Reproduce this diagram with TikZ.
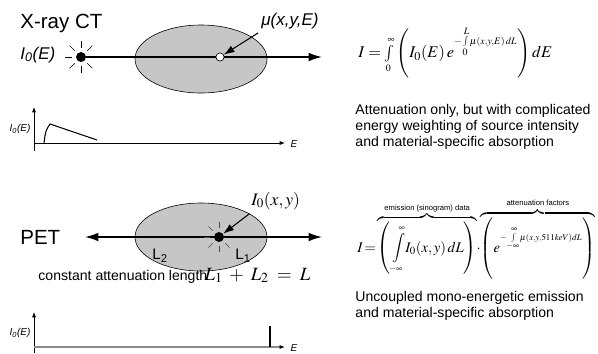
\documentclass[tikz,border=0pt]{standalone}
\usepackage{amsmath}
\usepackage{mathptmx}
\usepackage[no-math]{fontspec}
\setmainfont{Liberation Sans}
\usetikzlibrary{arrows.meta, positioning, shapes.geometric}
\definecolor{cbody}{HTML}{C6C6C6}
\definecolor{cline}{HTML}{8A8A8A}
\newcommand{\bracelabel}[1]{\text{\fontsize{6.5}{8}\selectfont #1}}
\newcommand{\tinylim}[1]{{\scriptscriptstyle #1}}
\tikzset{
  every picture/.style={line width=0.8pt},
  title/.style={font=\fontsize{17.5}{20}\selectfont},
  label/.style={font=\fontsize{14.5}{17}\selectfont\itshape},
  note/.style={font=\fontsize{12}{13.5}\selectfont, align=left, inner sep=0pt},
  tiny/.style={font=\fontsize{8.5}{10}\selectfont\itshape, inner sep=1pt},
  formula/.style={font=\fontsize{14}{16}\selectfont, inner sep=0pt},
  body/.style={draw, ellipse, fill=cbody, line width=0.5pt, inner sep=0pt,
    minimum width=3.96cm, minimum height=2.04cm},
  srcdot/.style={circle, fill=black, inner sep=0pt, minimum size=8.5pt},
  probe/.style={circle, draw, fill=white, line width=0.6pt, inner sep=0pt, minimum size=7pt},
  raytick/.style={line width=0.5pt},
  beam/.style={line width=1.3pt, -{Latex[length=4mm, width=2.6mm]}},
  twobeam/.style={line width=1.3pt, {Latex[length=4mm, width=2.6mm]}-{Latex[length=4mm, width=2.6mm]}},
  pointer/.style={line width=0.9pt, -{Latex[length=3.2mm, width=2.2mm]}},
  axisarrow/.style={line width=0.6pt, -{Latex[length=1.6mm, width=1.2mm]}},
}
\begin{document}
\begin{tikzpicture}[x=0.03cm, y=-0.03cm]
  \useasboundingbox (0,0) rectangle (598,353);
  % X-ray CT
  \node[title, anchor=base west] (cttitle) at (16,28) {X-ray CT};
  \node[label, anchor=base west] (ctintens) at (16,59) {I\textsubscript{0}(E)};
  \node[body] (ctbody) at (201,59) {};
  \node[srcdot] (ctsrc) at (81,57) {};
  \foreach \a in {45,90,...,315}
    \draw[raytick] (ctsrc.center) ++(\a:9) -- ++(\a:7);
  \coordinate (ctend) at (322,57);
  \draw[beam] (ctsrc) -- (ctend);
  \node[probe] (ctpoint) at (220,57) {};
  \node[label, anchor=base west] (mulabel) at (257,25) {μ(x,y,E)};
  \draw[pointer] ([xshift=1pt]mulabel.south west) -- (ctpoint);
  \node[formula, anchor=west] (ctformula) at (358,53)
    {$I=\int\limits_{\tinylim{0}}^{\tinylim{\infty}}\left(\rule[-17pt]{0pt}{41pt}I_0(E)\,e^{\scriptscriptstyle-\int\limits_0^{L}\mu(x,y,E)\,dL}\right)dE$};
  \node[note, anchor=north west] (cttext) at (355,104)
    {Attenuation only, but with complicated\\energy weighting of source intensity\\and material-specific absorption};
  % tube spectrum
  \coordinate (g1bot) at (34,151);
  \coordinate (g1top) at (34,107);
  \coordinate (g1left) at (34,143);
  \coordinate (g1right) at (285,143);
  \draw[axisarrow] (g1bot) -- (g1top);
  \draw[axisarrow] (g1left) -- (g1right);
  \node[tiny, anchor=west] (g1e) at (289,144) {E};
  \node[tiny, anchor=east] (g1lab) at (32,129) {I\textsubscript{0}(E)};
  \draw[line width=0.9pt] (44,143) .. controls (45.5,131) .. (50,124) -- (97,140);
  % PET
  \node[title, anchor=base west] (pettitle) at (16,244) {PET};
  \node[body] (petbody) at (201,237) {};
  \coordinate (petleft) at (85,237);
  \coordinate (petright) at (322,237);
  \draw[twobeam] (petleft) -- (petright);
  \node[srcdot] (petsrc) at (219,237) {};
  \foreach \a in {45,90,...,315}
    \draw[raytick, black!70] (petsrc.center) ++(\a:9) -- ++(\a:6);
  \node[font=\fontsize{15}{18}\selectfont, anchor=base west] (emlabel) at (247,205) {$I_0(x,y)$};
  \draw[pointer] ([xshift=2pt]emlabel.south west) -- (petsrc);
  \node[font=\fontsize{13}{15}\selectfont] (ltwo) at (160,256) {L\textsubscript{2}};
  \node[font=\fontsize{13}{15}\selectfont] (lone) at (243,256) {L\textsubscript{1}};
  \node[note, anchor=base west] (lenlabel) at (38,280) {constant attenuation length};
  \node[font=\fontsize{16}{18}\selectfont, inner sep=0pt, anchor=base west, xshift=-3pt] (lensum) at (lenlabel.base east) {$L_1\;+\;L_2\;=\;L$};
  \node[formula, font=\fontsize{12.5}{15}\selectfont, anchor=base west] (petformula) at (357,252)
    {$I\!=\!\overbrace{\left(\rule[-17pt]{0pt}{41pt}\int\limits_{\tinylim{-\infty}}^{\tinylim{\infty}}\!I_0(x,y)\,dL\right)}^{\bracelabel{emission (sinogram) data}}\!\cdot\!
     \overbrace{\left(\rule[-21pt]{0pt}{50pt}e^{\scriptscriptstyle-\!\int\limits_{-\infty}^{\infty}\!\mu(x,y,511keV)dL}\right)}^{\bracelabel{attenuation factors}}$};
  \node[note, anchor=north west] (pettext) at (355,291)
    {Uncoupled mono-energetic emission\\and material-specific absorption};
  % PET spectrum
  \coordinate (g2bot) at (34,353);
  \coordinate (g2top) at (34,312);
  \coordinate (g2left) at (34,347);
  \coordinate (g2right) at (285,347);
  \draw[axisarrow] (g2bot) -- (g2top);
  \draw[cline, line width=1.6pt, -{Latex[color=black, length=1.6mm, width=1.2mm]}] (g2left) -- (g2right);
  \node[tiny, anchor=west] (g2e) at (289,348) {E};
  \node[tiny, anchor=east] (g2lab) at (32,333) {I\textsubscript{0}(E)};
  \draw[line width=2.2pt] (270,347) -- (270,326);
\end{tikzpicture}
\end{document}
